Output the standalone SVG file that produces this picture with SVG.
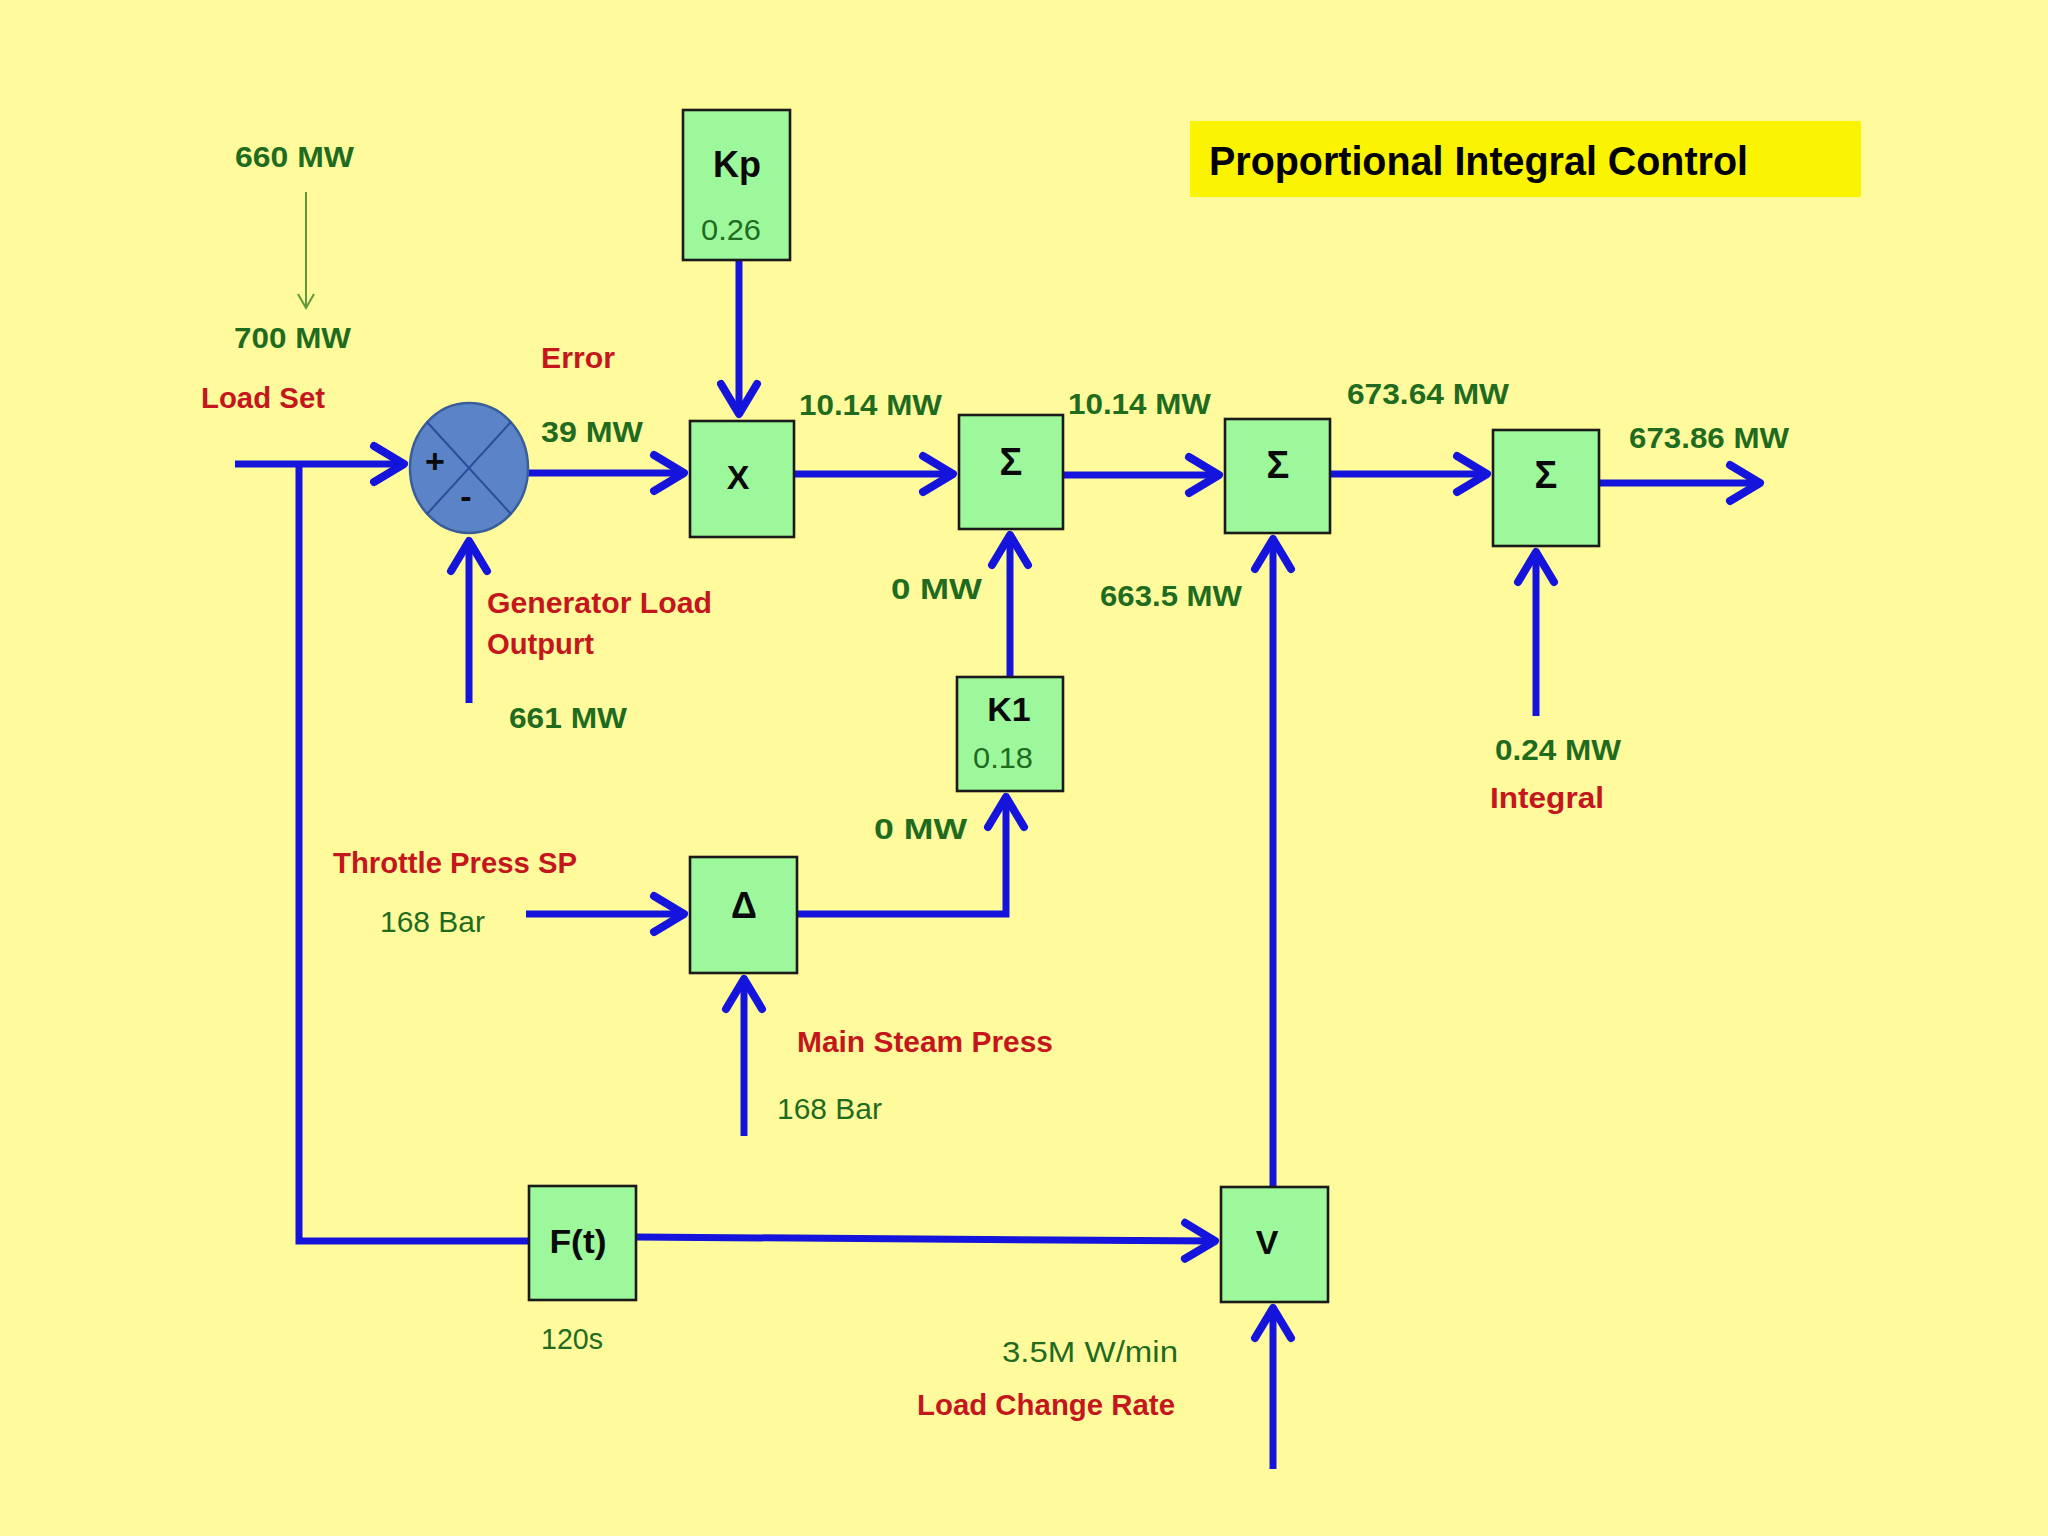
<svg xmlns="http://www.w3.org/2000/svg" width="2048" height="1536" viewBox="0 0 2048 1536">
<defs>
<style>
.bg{fill:#FFFB9C}
.box{fill:#9DF79B;stroke:#1a1a1a;stroke-width:2.6}
.wire{fill:none;stroke:#1414DC;stroke-width:7;marker-end:url(#ah)}
.plain{fill:none;stroke:#1414DC;stroke-width:7}
.g{font-family:"Liberation Sans",Arial,sans-serif;font-weight:bold;font-size:29px;fill:#1F6B1F}
.gn{font-family:"Liberation Sans",Arial,sans-serif;font-size:29px;fill:#1F6B1F}
.r{font-family:"Liberation Sans",Arial,sans-serif;font-weight:bold;font-size:29px;fill:#C4161C}
.k{font-family:"Liberation Sans",Arial,sans-serif;font-weight:bold;font-size:34px;fill:#0a0a0a;text-anchor:middle}
.title{font-family:"Liberation Sans",Arial,sans-serif;font-weight:bold;font-size:40px;fill:#000}
</style>
<marker id="ah" markerUnits="userSpaceOnUse" markerWidth="60" markerHeight="60" refX="0" refY="0" viewBox="-40 -30 60 60" orient="auto" overflow="visible">
<path d="M-30,-18 L0,0 L-30,18" fill="none" stroke="#1414DC" stroke-width="8" stroke-linecap="round" stroke-linejoin="round"/>
</marker>
<marker id="gh" markerUnits="userSpaceOnUse" markerWidth="30" markerHeight="30" refX="0" refY="0" viewBox="-15 -15 30 30" orient="auto" overflow="visible">
<path d="M-14,-8 L0,0 L-14,8" fill="none" stroke="#5E9A3A" stroke-width="2"/>
</marker>
</defs>
<rect class="bg" x="0" y="0" width="2048" height="1536"/>

<g id="title">
<rect x="1190" y="121" width="671" height="76" fill="#FAF400"/>
<text class="title" x="1209" y="175" textLength="539" lengthAdjust="spacingAndGlyphs">Proportional  Integral Control</text>
</g>

<g id="connectors">
<line x1="306" y1="192" x2="306" y2="308" stroke="#5E9A3A" stroke-width="2" marker-end="url(#gh)"/>
<path class="wire" d="M235,464 L404,464"/>
<path class="plain" d="M299,464 L299,1241 L529,1241"/>
<path class="wire" d="M528,473 L684,473"/>
<path class="wire" d="M739,260 L739,414"/>
<path class="wire" d="M794,474 L953,474"/>
<path class="wire" d="M1063,475 L1219,475"/>
<path class="wire" d="M1330,474 L1487,474"/>
<path class="wire" d="M1599,483 L1760,483"/>
<path class="wire" d="M1010,677 L1010,535"/>
<path class="wire" d="M797,914 L1006,914 L1006,797"/>
<path class="wire" d="M526,914 L684,914"/>
<path class="wire" d="M744,1136 L744,979"/>
<path class="wire" d="M469,703 L469,541"/>
<path class="wire" d="M1273,1187 L1273,539"/>
<path class="wire" d="M636,1237 L1215,1241"/>
<path class="wire" d="M1273,1469 L1273,1308"/>
<path class="wire" d="M1536,716 L1536,552"/>
</g>

<g id="sum-junction">
<ellipse cx="469" cy="468" rx="59" ry="65" fill="#5B84C8" stroke="#3A5E9A" stroke-width="2.5"/>
<line x1="427" y1="422" x2="511" y2="514" stroke="#2A4C9A" stroke-width="2"/>
<line x1="511" y1="422" x2="427" y2="514" stroke="#2A4C9A" stroke-width="2"/>
<text class="k" x="435" y="473" style="font-size:34px">+</text>
<text class="k" x="466" y="508" style="font-size:34px">-</text>
</g>

<g id="node-kp">
<rect class="box" x="683" y="110" width="107" height="150"/>
<text class="k" x="737" y="177" style="font-size:36px">Kp</text>
<text class="gn" x="701" y="240" textLength="60" lengthAdjust="spacingAndGlyphs">0.26</text>
</g>
<g id="node-x">
<rect class="box" x="690" y="421" width="104" height="116"/>
<text class="k" x="738" y="489">X</text>
</g>
<g id="node-sigma1">
<rect class="box" x="959" y="415" width="104" height="114"/>
<text class="k" x="1011" y="475" style="font-size:38px">Σ</text>
</g>
<g id="node-sigma2">
<rect class="box" x="1225" y="419" width="105" height="114"/>
<text class="k" x="1278" y="478" style="font-size:38px">Σ</text>
</g>
<g id="node-sigma3">
<rect class="box" x="1493" y="430" width="106" height="116"/>
<text class="k" x="1546" y="488" style="font-size:38px">Σ</text>
</g>
<g id="node-k1">
<rect class="box" x="957" y="677" width="106" height="114"/>
<text class="k" x="1009" y="721">K1</text>
<text class="gn" x="973" y="768" textLength="60" lengthAdjust="spacingAndGlyphs">0.18</text>
</g>
<g id="node-delta">
<rect class="box" x="690" y="857" width="107" height="116"/>
<text class="k" x="744" y="918" style="font-size:36px">Δ</text>
</g>
<g id="node-ft">
<rect class="box" x="529" y="1186" width="107" height="114"/>
<text class="k" x="578" y="1253" textLength="57" lengthAdjust="spacingAndGlyphs">F(t)</text>
</g>
<g id="node-v">
<rect class="box" x="1221" y="1187" width="107" height="115"/>
<text class="k" x="1267" y="1254">V</text>
</g>

<g id="labels">
<text class="g" x="235" y="167" textLength="119" lengthAdjust="spacingAndGlyphs">660 MW</text>
<text class="g" x="234" y="348" textLength="117" lengthAdjust="spacingAndGlyphs">700 MW</text>
<text class="r" x="201" y="408" textLength="124" lengthAdjust="spacingAndGlyphs">Load Set</text>
<text class="r" x="541" y="368" textLength="74" lengthAdjust="spacingAndGlyphs">Error</text>
<text class="g" x="541" y="442" textLength="102" lengthAdjust="spacingAndGlyphs">39 MW</text>
<text class="g" x="799" y="415" textLength="143" lengthAdjust="spacingAndGlyphs">10.14 MW</text>
<text class="g" x="1068" y="414" textLength="143" lengthAdjust="spacingAndGlyphs">10.14 MW</text>
<text class="g" x="1347" y="404" textLength="162" lengthAdjust="spacingAndGlyphs">673.64 MW</text>
<text class="g" x="1629" y="448" textLength="160" lengthAdjust="spacingAndGlyphs">673.86 MW</text>
<text class="g" x="891" y="599" textLength="91" lengthAdjust="spacingAndGlyphs">0  MW</text>
<text class="g" x="1100" y="606" textLength="142" lengthAdjust="spacingAndGlyphs">663.5 MW</text>
<text class="r" x="487" y="613" textLength="225" lengthAdjust="spacingAndGlyphs">Generator Load</text>
<text class="r" x="487" y="654" textLength="107" lengthAdjust="spacingAndGlyphs">Outpurt</text>
<text class="g" x="509" y="728" textLength="118" lengthAdjust="spacingAndGlyphs">661 MW</text>
<text class="g" x="874" y="839" textLength="93" lengthAdjust="spacingAndGlyphs">0  MW</text>
<text class="r" x="333" y="873" textLength="244" lengthAdjust="spacingAndGlyphs">Throttle Press SP</text>
<text class="gn" x="380" y="932" textLength="105" lengthAdjust="spacingAndGlyphs">168 Bar</text>
<text class="r" x="797" y="1052" textLength="256" lengthAdjust="spacingAndGlyphs">Main Steam Press</text>
<text class="gn" x="777" y="1119" textLength="105" lengthAdjust="spacingAndGlyphs">168 Bar</text>
<text class="gn" x="541" y="1349" textLength="62" lengthAdjust="spacingAndGlyphs">120s</text>
<text class="gn" x="1002" y="1362" textLength="176" lengthAdjust="spacingAndGlyphs">3.5M W/min</text>
<text class="r" x="917" y="1415" textLength="258" lengthAdjust="spacingAndGlyphs">Load Change Rate</text>
<text class="g" x="1495" y="760" textLength="126" lengthAdjust="spacingAndGlyphs">0.24 MW</text>
<text class="r" x="1490" y="808" textLength="114" lengthAdjust="spacingAndGlyphs">Integral</text>
</g>
</svg>
